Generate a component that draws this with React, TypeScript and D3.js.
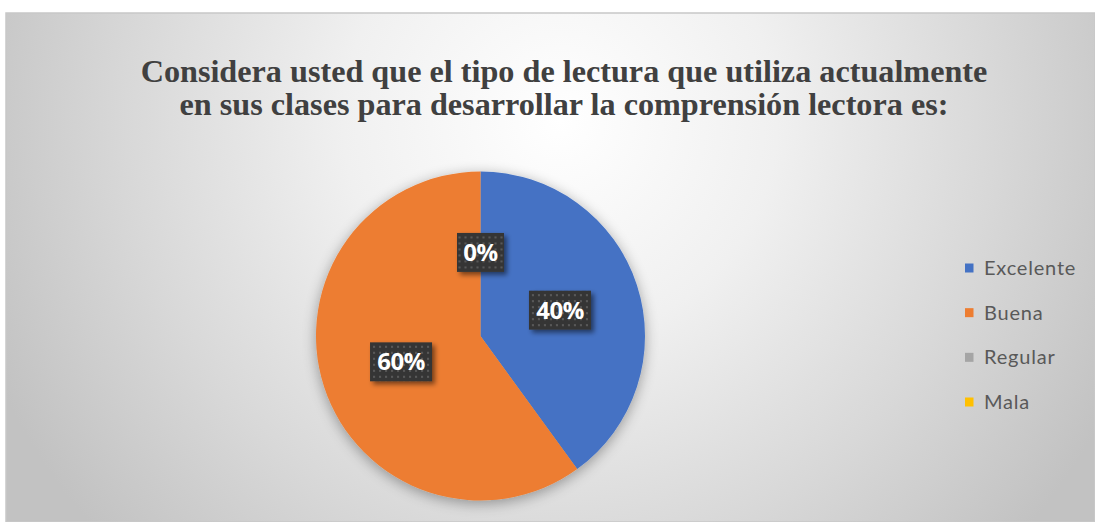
import React from "react";
import * as d3 from "d3";

const categories = ["Excelente", "Buena", "Regular", "Mala"];
const values = [40, 60, 0, 0];
const colors = ["#4472C4", "#ED7D31", "#A5A5A5", "#FFC000"];
const titleLines = [
  "Considera usted que el tipo de lectura que utiliza actualmente",
  "en sus clases para desarrollar la comprensión lectora es:",
];

const W = 1095;
const H = 522;
const cx = 480.5;
const cy = 336;
const R = 164.5;

export default function App() {
  const pie = d3.pie<number>().value((d) => d).sort(null);
  const arcs = pie(values);
  const arcGen = d3.arc<d3.PieArcDatum<number>>().innerRadius(0).outerRadius(R);
  const labelArc = d3.arc<d3.PieArcDatum<number>>().innerRadius(R * 0.508).outerRadius(R * 0.508);
  const total = d3.sum(values);
  const fmt = (v: number) => `${Math.round((v / total) * 100)}%`;

  const labels = arcs
    .map((a, i) => ({ a, i }))
    .filter(({ a, i }) => a.data > 0 || i === 2);

  const legendY = d3.scalePoint<string>().domain(categories).range([268, 402]);

  return (
    <svg width={W} height={H} style={{ position: "absolute", left: 0, top: 0 }}>
      <defs>
        <radialGradient id="bg" gradientUnits="userSpaceOnUse" cx={560} cy={120} r={620}>
          <stop offset="0%" stopColor="#ffffff" />
          <stop offset="35%" stopColor="#f0f0f0" />
          <stop offset="70%" stopColor="#d8d8d8" />
          <stop offset="100%" stopColor="#c2c2c2" />
        </radialGradient>
        <filter id="pieShadow" x="-20%" y="-20%" width="140%" height="140%">
          <feGaussianBlur in="SourceAlpha" stdDeviation="7" />
          <feOffset dx="0" dy="3" result="b" />
          <feComponentTransfer>
            <feFuncA type="linear" slope="0.35" />
          </feComponentTransfer>
          <feMerge>
            <feMergeNode />
            <feMergeNode in="SourceGraphic" />
          </feMerge>
        </filter>
        <filter id="lblShadow" x="-30%" y="-30%" width="160%" height="160%">
          <feGaussianBlur in="SourceAlpha" stdDeviation="2.5" />
          <feOffset dx="3" dy="3" result="b" />
          <feComponentTransfer>
            <feFuncA type="linear" slope="0.5" />
          </feComponentTransfer>
          <feMerge>
            <feMergeNode />
            <feMergeNode in="SourceGraphic" />
          </feMerge>
        </filter>
        <pattern id="dots" width="6" height="6" patternUnits="userSpaceOnUse">
          <rect width="6" height="6" fill="#363636" />
          <circle cx="3" cy="3" r="0.9" fill="#6a6a6a" />
        </pattern>
      </defs>
      <rect x={0} y={0} width={W} height={H} fill="#ffffff" />
      <rect x={6} y={13} width={W - 6} height={H - 13} fill="url(#bg)" stroke="#c8c8c8" strokeWidth={1.5} />

      {titleLines.map((t, i) => (
        <text
          key={i}
          x={564}
          y={82 + i * 33}
          textAnchor="middle"
          fontFamily="'Liberation Serif', 'Times New Roman', serif"
          fontWeight="bold"
          fontSize={32.2}
          fill="#404040"
        >
          {t}
        </text>
      ))}

      <g transform={`translate(${cx},${cy})`} filter="url(#pieShadow)">
        {arcs.map((a, i) => (
          <path key={i} d={arcGen(a) || ""} fill={colors[i]} />
        ))}
      </g>

      <g transform={`translate(${cx},${cy})`}>
        {labels.map(({ a, i }) => {
          const [lx, ly] = labelArc.centroid(a);
          const txt = fmt(a.data);
          const w = txt.length === 2 ? 47 : 62;
          const h = 39;
          return (
            <g key={i} transform={`translate(${lx},${ly})`}>
              <rect x={-w / 2} y={-h / 2} width={w} height={h} fill="url(#dots)" filter="url(#lblShadow)" />
              <text
                x={0}
                y={8.5}
                textAnchor="middle"
                fontFamily="'Open Sans', sans-serif"
                fontWeight="bold"
                fontSize={24}
                letterSpacing={-0.5}
                fill="#ffffff"
              >
                {txt}
              </text>
            </g>
          );
        })}
      </g>

      {categories.map((c, i) => {
        const y = legendY(c) as number;
        return (
          <g key={c}>
            <rect x={965} y={y - 4.5} width={8.5} height={9} fill={colors[i]} />
            <text
              x={984}
              y={y + 7}
              fontFamily="Lato, 'Open Sans', sans-serif"
              fontSize={20}
              letterSpacing={0.8}
              fill="#595959"
            >
              {c}
            </text>
          </g>
        );
      })}
    </svg>
  );
}
